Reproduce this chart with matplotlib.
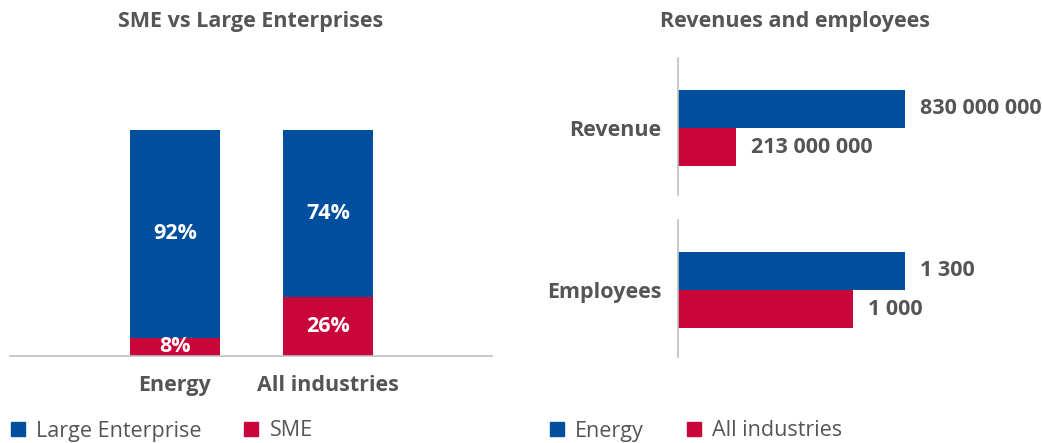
import matplotlib.pyplot as plt
from matplotlib.lines import Line2D

# data
industries = ['Energy', 'All industries']
sme_share = [8, 26]
large_share = [92, 74]

metrics = ['Revenue', 'Employees']
energy_vals = [830000000, 1300]
all_ind_vals = [213000000, 1000]

blue = '#004F9E'
red = '#C8063A'
grey = '#555555'
line_grey = '#BFBFBF'
fs = 15.5

plt.rcParams['font.family'] = ['Open Sans', 'DejaVu Sans']

W, H = 1042, 443
fig = plt.figure(figsize=(W / 100, H / 100), dpi=100)


def px_rect(x0, y0, x1, y1):
    # pixel box (top-left origin) -> figure fraction rect
    return [x0 / W, 1 - y1 / H, (x1 - x0) / W, (y1 - y0) / H]


def fmt(v):
    return '{:,}'.format(v).replace(',', ' ')


# ---- left: stacked bars
ax = fig.add_axes(px_rect(10, 60, 492, 356))
xs = range(len(industries))
ax.bar(xs, sme_share, width=0.59, color=red)
ax.bar(xs, large_share, width=0.59, bottom=sme_share, color=blue)
for i in xs:
    ax.text(i, sme_share[i] / 2, '{}%'.format(sme_share[i]), ha='center', va='center',
            color='white', fontsize=fs, fontweight='bold')
    ax.text(i, sme_share[i] + large_share[i] / 2, '{}%'.format(large_share[i]),
            ha='center', va='center', color='white', fontsize=fs, fontweight='bold')
ax.set_xlim(-1.078, 2.072)
ax.set_ylim(0, 131)
for s in ['top', 'right', 'left']:
    ax.spines[s].set_visible(False)
ax.spines['bottom'].set_color(line_grey)
ax.spines['bottom'].set_linewidth(1.2)
ax.set_yticks([])
ax.set_xticks(list(xs))
ax.set_xticklabels(industries, fontsize=fs, fontweight='bold', color=grey)
ax.tick_params(axis='x', length=0, pad=14)
fig.text(251 / W, 1 - 22 / H, 'SME vs Large Enterprises', ha='center', va='center',
         fontsize=fs, fontweight='bold', color=grey)

h1 = [Line2D([], [], marker='s', ls='', color=blue, markersize=9.5),
      Line2D([], [], marker='s', ls='', color=red, markersize=9.5)]
ax.legend(h1, ['Large Enterprise', 'SME'], ncol=2, frameon=False, fontsize=fs,
          loc='center left', bbox_to_anchor=(-10 / W, 1 - 431 / H),
          bbox_transform=fig.transFigure, handlelength=0.8, handletextpad=0.45,
          columnspacing=1.9, labelcolor=grey)

# ---- right: horizontal bars, one axes per metric
tops = [58, 220]
for k, m in enumerate(metrics):
    a = fig.add_axes(px_rect(678, tops[k], W, tops[k] + 137))
    a.barh([0.5], [energy_vals[k]], height=1, color=blue)
    a.barh([-0.5], [all_ind_vals[k]], height=1, color=red)
    mx = max(energy_vals[k], all_ind_vals[k])
    a.set_xlim(0, mx * (W - 678) / 227)
    a.set_ylim(-1.763, 1.842)
    off = mx * 15 / 227
    a.text(energy_vals[k] + off, 0.5, fmt(energy_vals[k]), va='center', ha='left',
           fontsize=fs, fontweight='bold', color=grey)
    a.text(all_ind_vals[k] + off, -0.5, fmt(all_ind_vals[k]), va='center', ha='left',
           fontsize=fs, fontweight='bold', color=grey)
    for s in ['top', 'right', 'bottom']:
        a.spines[s].set_visible(False)
    a.spines['left'].set_color(line_grey)
    a.spines['left'].set_linewidth(1.2)
    a.set_xticks([])
    a.set_yticks([0])
    a.set_yticklabels([m], fontsize=fs, fontweight='bold', color=grey)
    a.tick_params(axis='y', length=0, pad=12)
    if k == 1:
        h2 = [Line2D([], [], marker='s', ls='', color=blue, markersize=9.5),
              Line2D([], [], marker='s', ls='', color=red, markersize=9.5)]
        a.legend(h2, ['Energy', 'All industries'], ncol=2, frameon=False, fontsize=fs,
                 loc='center left', bbox_to_anchor=(529 / W, 1 - 431 / H),
                 bbox_transform=fig.transFigure, handlelength=0.8, handletextpad=0.45,
                 columnspacing=1.9, labelcolor=grey)

fig.text(795 / W, 1 - 22 / H, 'Revenues and employees', ha='center', va='center',
         fontsize=fs, fontweight='bold', color=grey)

fig.savefig('out.png', dpi=100)
